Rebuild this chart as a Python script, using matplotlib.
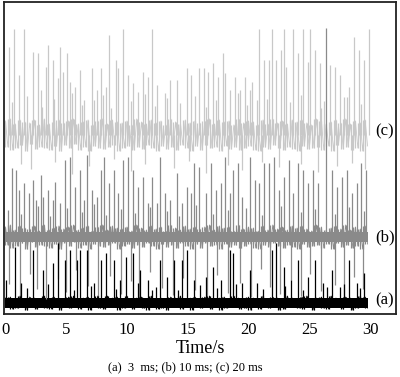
import numpy as np
import matplotlib
matplotlib.use('Agg')
from matplotlib import pyplot as plt

# sample grid of the background noise (s)
t_noise = np.arange(0, 30, 0.2)

# (a) 3 ms - black trace
base_a = 11
core_a = 5
noise_a = [5, -4, 6, -6, 3, -5, 7, -3, 4, -7, 6, -2, 5, -6, 4, -4, 7, -5, 3, -6,
           6, -3, 5, -7, 4, -4, 6, -5, 7, -2, 3, -6, 5, -4, 6, -7, 4, -3, 7, -5,
           3, -6, 7, -4, 5, -3, 6, -7, 4, -5, 7, -4, 2, -6, 5, -3, 6, -5, 4, -7,
           7, -3, 4, -6, 5, -5, 3, -7, 6, -4, 5, -2, 7, -6, 4, -3, 5, -7, 6, -4,
           4, -5, 6, -3, 7, -6, 3, -4, 5, -7, 6, -5, 4, -3, 7, -4, 5, -6, 3, -5,
           6, -7, 5, -3, 4, -6, 7, -4, 3, -5, 6, -3, 5, -7, 4, -6, 7, -2, 5, -4,
           3, -5, 6, -6, 7, -3, 4, -7, 5, -4, 6, -5, 3, -6, 7, -4, 5, -3, 4, -6,
           6, -4, 5, -7, 3, -5, 7, -3, 6, -5]
t_up_a = [0.05, 0.8, 1.3, 2.3, 3.1, 3.9, 4.3, 4.9, 5.3, 5.9, 6.1, 6.7, 7.3, 7.9, 8.3, 8.9,
          9.4, 9.9, 10.5, 11.1, 11.7, 12.1, 12.7, 13.3, 13.9, 14.5, 14.9, 15.5, 16.5, 17.1,
          17.7, 18.5, 18.7, 19.5, 20.1, 20.7, 21.9, 22.3, 22.9, 23.5, 24.1, 24.9, 25.5,
          26.1, 26.9, 27.5, 28.3, 28.9, 29.5,
          1.8, 3.5, 5.6, 7.0, 9.1, 10.9, 12.4, 14.2, 16.0, 17.4, 19.0, 21.2, 23.0, 24.5,
          26.5, 27.9, 29.2]
v_up_a = [34, 67, 31, 64, 44, 51, 71, 54, 64, 54, 64, 64, 31, 54, 61, 54,
          34, 57, 61, 44, 34, 24, 54, 37, 54, 54, 64, 34, 37, 47,
          34, 64, 61, 31, 44, 31, 64, 71, 47, 34, 54, 37, 54,
          31, 44, 27, 54, 31, 41,
          26, 30, 24, 28, 25, 31, 27, 24, 29, 26, 30, 25, 28, 24, 27, 30, 26]

# (b) 10 ms - mid grey trace
base_b = 77
core_b = 5
noise_b = [10, -8, 12, -11, 7, -9, 11, -6, 9, -12, 8, -5, 11, -10, 6, -8, 12, -9, 7, -11,
           9, -7, 11, -12, 8, -6, 10, -9, 12, -5, 7, -11, 9, -8, 11, -12, 6, -7, 10, -9,
           12, -10, 7, -8, 11, -6, 9, -12, 8, -9, 10, -7, 6, -11, 12, -8, 9, -10, 7, -6,
           11, -9, 8, -12, 10, -7, 6, -10, 12, -8, 9, -11, 7, -6, 11, -9, 8, -12, 10, -7,
           8, -11, 10, -6, 12, -9, 7, -8, 11, -12, 9, -7, 10, -10, 6, -8, 12, -11, 8, -9,
           10, -7, 9, -11, 6, -12, 11, -8, 7, -10, 12, -6, 8, -9, 10, -11, 7, -8, 11, -10,
           9, -12, 11, -7, 8, -10, 6, -9, 12, -8, 10, -11, 7, -7, 9, -12, 11, -6, 8, -10,
           12, -8, 7, -11, 10, -9, 8, -12, 11, -7]
t_up_b = [0.5, 0.9, 1.1, 1.5, 1.9, 2.3, 2.5, 2.9, 3.1, 3.5, 3.9, 4.1, 4.5, 4.9, 5.3, 5.7,
          6.1, 6.5, 6.7, 7.1, 7.5, 7.9, 8.1, 8.5, 8.9, 9.3, 9.7, 10.1, 10.5, 10.9, 11.3,
          11.7, 12.1, 12.5, 12.7, 13.1, 13.5, 14.1, 14.5, 14.9, 15.3, 15.5, 15.9, 16.5,
          16.9, 17.3, 17.7, 18.1, 18.5, 18.7, 19.1, 19.5, 20.1, 20.5, 20.9, 21.3, 21.7,
          22.1, 22.5, 22.9, 23.3, 23.7, 24.1, 24.5, 24.9, 25.3, 25.7, 26.4, 26.9, 27.3,
          27.7, 28.1, 28.5, 28.9, 29.3, 29.7,
          0.2, 1.3, 2.7, 3.7, 5.1, 6.3, 7.3, 8.3, 9.5, 10.7, 11.9, 13.3, 14.3, 15.7, 17.1,
          18.3, 19.8, 21.1, 22.7, 24.3, 25.5, 27.1, 28.3, 29.5]
v_up_b = [146, 144, 124, 131, 121, 134, 114, 139, 117, 124, 114, 132, 111, 154, 157, 127,
          144, 114, 159, 124, 117, 144, 157, 131, 144, 121, 154, 157, 144, 127, 137,
          111, 137, 111, 157, 121, 114, 141, 111, 127, 121, 151, 147, 121,
          151, 124, 131, 157, 121, 144, 151, 117, 157, 134, 131, 151, 151,
          157, 124, 137, 154, 121, 151, 144, 131, 144, 131, 286, 144, 127,
          137, 144, 121, 131, 151, 144,
          104, 100, 108, 98, 106, 102, 110, 99, 105, 101, 107, 103, 98, 109, 100,
          104, 106, 99, 108, 102, 105, 100, 107, 103]
t_dn_b = [0.3, 1.2, 2.0, 2.6, 3.3, 4.3, 5.0, 5.8, 6.8, 7.6, 8.6, 9.5, 10.3, 11.0, 11.9,
          12.9, 13.8, 14.6, 15.6, 16.6, 17.4, 18.3, 19.3, 20.2, 21.0, 21.8, 22.6, 23.5,
          24.3, 25.1, 26.0, 27.1, 27.9, 28.7, 29.4]
v_dn_b = [30, 18, 40, 25, 15, 35, 22, 44, 28, 17, 38, 20, 33, 16, 42,
          26, 19, 36, 24, 14, 39, 21, 31, 17, 45, 27, 20, 34,
          18, 40, 23, 29, 16, 37, 25]

# (c) 20 ms - light grey trace
base_c = 179
core_c = 0
noise_c = [14, -12, 16, -15, 11, -13, 15, -10, 13, -16, 12, -9, 15, -14, 10, -12, 16, -13, 11, -15,
           13, -11, 15, -16, 12, -10, 14, -13, 16, -9, 11, -15, 13, -12, 15, -16, 10, -11, 14, -13,
           16, -14, 11, -12, 15, -10, 13, -16, 12, -13, 14, -11, 10, -15, 16, -12, 13, -14, 11, -10,
           15, -13, 12, -16, 14, -11, 10, -14, 16, -12, 13, -15, 11, -10, 15, -13, 12, -16, 14, -11,
           12, -15, 14, -10, 16, -13, 11, -12, 15, -16, 13, -11, 14, -14, 10, -12, 16, -15, 12, -13,
           14, -11, 13, -15, 10, -16, 15, -12, 11, -14, 16, -10, 12, -13, 14, -15, 11, -12, 15, -14,
           13, -16, 15, -11, 12, -14, 10, -13, 16, -12, 14, -15, 11, -11, 13, -16, 15, -10, 12, -14,
           16, -12, 11, -15, 14, -13, 12, -16, 15, -11]
t_up_c = [0.3, 0.7, 1.1, 1.5, 2.3, 2.7, 2.9, 3.3, 3.5, 3.9, 4.3, 4.5, 4.7, 5.1, 5.3, 5.7,
          6.1, 6.5, 7.1, 7.5, 7.9, 8.3, 8.5, 9.1, 9.3, 9.7, 10.1, 10.5, 10.9, 11.3, 11.7,
          12.1, 12.5, 13.1, 13.5, 14.1, 14.9, 15.3, 15.9, 16.3, 16.7, 17.1, 17.5, 17.9,
          18.1, 18.5, 18.9, 19.3, 19.7, 20.1, 20.3, 20.7, 20.9, 21.3, 21.7, 21.9, 22.3,
          22.7, 22.9, 23.1, 23.7, 24.1, 24.5, 24.9, 25.1, 25.5, 25.9, 26.7, 27.1, 27.5,
          27.9, 28.3, 28.7, 29.1, 29.5, 29.9,
          0.5, 1.8, 3.0, 4.0, 5.5, 6.3, 7.3, 8.0, 8.7, 10.3, 11.5, 12.3, 13.3, 14.4, 15.6,
          16.5, 17.3, 19.1, 19.9, 21.5, 23.4, 24.3, 26.0, 26.2, 28.1, 29.3]
v_up_c = [267, 285, 239, 285, 262, 261, 224, 247, 269, 254, 236, 267, 242, 261, 232, 227,
          244, 214, 246, 224, 246, 227, 279, 254, 246, 285, 239, 231, 222, 242, 237,
          285, 229, 221, 234, 234, 246, 239, 246, 246, 242, 251, 237, 261,
          241, 224, 237, 224, 237, 224, 232, 214, 285, 254, 254, 285, 254,
          264, 285, 247, 285, 261, 285, 252, 285, 264, 251, 249, 247, 239,
          217, 227, 277, 264, 254, 285,
          212, 218, 207, 215, 221, 209, 214, 219, 206, 213, 220, 208, 216, 211, 218,
          207, 214, 221, 209, 215, 212, 219, 206, 213, 217, 210]
t_dn_c = [1.3, 2.1, 4.1, 5.5, 6.9, 8.9, 10.3, 11.5, 13.9, 15.1, 16.5, 18.3, 19.5, 21.1,
          22.5, 24.3, 25.7, 27.3, 28.5, 29.6]
v_dn_c = [150, 145, 152, 140, 148, 155, 143, 150, 146, 153, 141, 149, 144, 152,
          147, 150, 142, 148, 151, 145]

labels = ['(a)', '(b)', '(c)']
caption = '(a)  3  ms; (b) 10 ms; (c) 20 ms'
xticks = [0, 5, 10, 15, 20, 25, 30]


def draw_trace(ax, base, core, noise, t_up, v_up, t_dn, v_dn, color):
    y = base + np.array(noise, dtype=float)
    # dense core of the background noise
    if core:
        ax.fill_between(t_noise, base - core, base + core, color=color, lw=0)
    # noise strokes and trace
    ax.vlines(t_noise[:-1], y[:-1], y[1:], color=color, lw=0.9)
    ax.plot(t_noise, y, color=color, lw=0.6)
    # spikes
    ax.vlines(t_up, base, v_up, color=color, lw=0.9)
    if len(t_dn):
        ax.vlines(t_dn, v_dn, base, color=color, lw=0.9)


plt.rcParams['font.family'] = ['Liberation Serif', 'DejaVu Serif']

fig = plt.figure(figsize=(4.0, 3.77), dpi=100)
ax = fig.add_axes([0.01, 0.167, 0.98, 0.828])

draw_trace(ax, base_c, core_c, noise_c, t_up_c, v_up_c, t_dn_c, v_dn_c, '#c8c8c8')
draw_trace(ax, base_b, core_b, noise_b, t_up_b, v_up_b, t_dn_b, v_dn_b, '#8a8a8a')
draw_trace(ax, base_a, core_a, noise_a, t_up_a, v_up_a, [], [], '#000000')

for lab, y in zip(labels, [base_a + 3, base_b, base_c + 4]):
    ax.text(31.2, y, lab, fontsize=12, ha='center', va='center')

ax.set_xlim(-0.12, 32.14)
ax.set_ylim(0, 312)
ax.set_yticks([])
ax.set_xticks(xticks)
ax.set_xticklabels([str(x) for x in xticks], fontsize=12)
ax.tick_params(axis='x', length=0, pad=6)
for sp in ax.spines.values():
    sp.set_linewidth(1.3)
    sp.set_color('#222222')

ax.set_xlabel('Time/s', fontsize=13, labelpad=1)
fig.text(0.4625, 0.026, caption, fontsize=9, ha='center', va='center')

fig.savefig('out.png', dpi=100)
